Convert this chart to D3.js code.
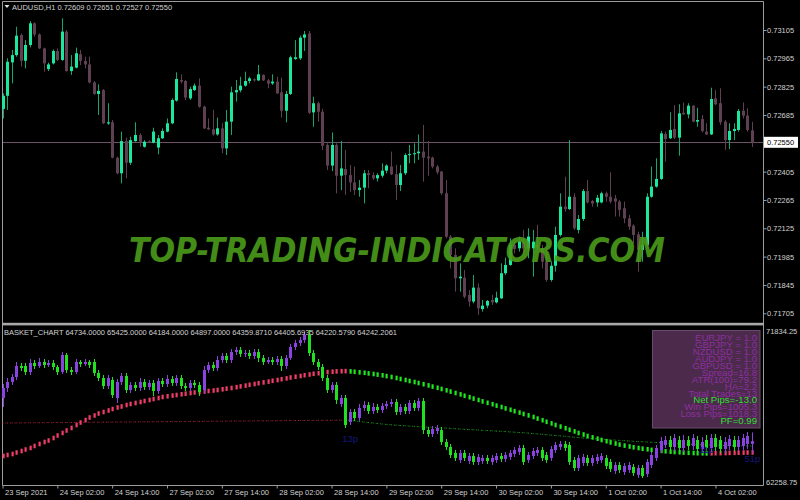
<!DOCTYPE html>
<html><head><meta charset="utf-8">
<script src="https://cdn.jsdelivr.net/npm/d3@7/dist/d3.min.js"></script>
<style>html,body{margin:0;padding:0;background:#000;overflow:hidden}svg{display:block}</style>
</head><body>
<svg id="chart" width="800" height="500"></svg>
<script>
// ---------- AUDUSD H1 candles (price x 1e5) ----------
const pO = [72715,72780,72945,72981,73080,72953,73031,73138,73083,73014,
72912,72940,73001,72957,73097,72902,72919,72985,72952,72935,
72846,72789,72808,72643,72649,72474,72397,72556,72449,72556,
72586,72528,72555,72548,72524,72570,72603,72644,72756,72858,
72853,72767,72808,72830,72726,72622,72614,72589,72619,72520,
72652,72797,72807,72830,72853,72861,72856,72883,72856,72841,
72850,72797,72706,72789,72962,72965,73067,73088,72698,72743,
72701,72537,72435,72537,72385,72418,72388,72352,72314,72326,
72397,72388,72372,72385,72410,72430,72392,72339,72397,72487,
72491,72496,72504,72479,72474,72430,72405,72298,72084,71993,
71878,71881,71796,71763,71832,71726,71743,71771,71759,71779,
71903,71944,72043,72026,72059,72026,72026,72043,72026,71960,
71870,71940,72092,72232,72220,72281,72117,72171,72309,72260,
72253,72253,72298,72281,72273,72257,72224,72174,72138,72095,
72018,72043,72281,72331,72369,72591,72570,72616,72573,72696,
72688,72731,72652,72665,72603,72589,72767,72743,72652,72561,
72606,72611,72706,72682,72609];
const pH = [72792,72965,73006,73121,73088,73055,73149,73143,73088,73018,
72944,73009,73014,73163,73105,72981,73018,73006,72973,72973,
72853,72836,72813,72743,72660,72479,72603,72573,72578,72649,
72594,72561,72560,72622,72586,72619,72668,72767,72896,72886,
72858,72825,72841,72866,72731,72668,72710,72672,72644,72710,
72825,72858,72874,72899,72874,72866,72932,72886,72863,72886,
72874,72869,72804,72978,73055,73077,73100,73100,72775,72751,
72715,72545,72599,72545,72556,72512,72438,72430,72364,72413,
72413,72402,72397,72446,72441,72504,72438,72438,72496,72537,
72545,72589,72636,72556,72479,72438,72408,72364,72092,72026,
71952,71919,71820,71894,71853,71771,71771,71796,71812,71952,
71980,72076,72059,72084,72117,72125,72117,72142,72043,72026,
71960,72133,72298,72380,72561,72298,72191,72319,72364,72265,
72290,72306,72306,72402,72290,72265,72257,72191,72145,72108,
72108,72298,72430,72471,72606,72603,72698,72734,72738,72747,
72743,72734,72721,72685,72644,72820,72808,72817,72660,72644,
72644,72715,72747,72718,72651];
const pL = [72668,72710,72841,72973,72924,72915,73019,73072,73011,72899,
72902,72935,72952,72952,72899,72883,72915,72932,72915,72841,
72784,72685,72640,72636,72471,72392,72347,72372,72438,72553,
72528,72524,72548,72545,72491,72566,72599,72639,72751,72841,
72759,72759,72804,72721,72616,72611,72583,72583,72496,72487,
72586,72751,72797,72825,72841,72850,72853,72853,72817,72833,
72789,72672,72649,72784,72957,72957,73001,72690,72627,72652,
72512,72413,72408,72298,72314,72290,72306,72290,72281,72248,
72323,72364,72356,72375,72397,72388,72265,72309,72388,72446,
72446,72463,72356,72385,72421,72392,72290,72076,71927,71812,
71812,71779,71738,71754,71697,71713,71730,71746,71754,71776,
71894,71940,72001,72010,71993,71977,71886,72018,71927,71861,
71861,71911,72084,72207,72216,72117,72100,72161,72248,72232,
72232,72248,72257,72248,72183,72183,72150,72117,72051,71911,
71960,72034,72276,72326,72364,72454,72566,72566,72484,72685,
72668,72649,72627,72599,72586,72586,72734,72636,72512,72517,
72561,72603,72668,72603,72527];
const pC = [72780,72948,72981,73077,72953,73031,73138,73083,73014,72940,
72935,73001,72957,73097,72902,72924,72990,72952,72935,72846,
72789,72804,72644,72649,72474,72397,72556,72449,72561,72586,
72553,72553,72552,72603,72570,72606,72644,72759,72863,72850,
72771,72813,72830,72726,72619,72614,72589,72619,72520,72652,
72797,72808,72830,72853,72866,72856,72886,72856,72840,72850,
72792,72706,72789,72970,72970,73067,73083,72696,72743,72701,
72533,72435,72537,72385,72421,72388,72352,72314,72326,72397,
72388,72372,72388,72410,72435,72392,72339,72397,72487,72492,
72496,72504,72474,72471,72430,72402,72298,72084,71993,71878,
71886,71787,71763,71832,71730,71743,71766,71759,71782,71903,
71944,72043,72023,72059,72026,72084,72059,72026,71960,71870,
71940,72092,72232,72220,72281,72125,72171,72309,72253,72248,
72276,72298,72281,72257,72257,72216,72174,72133,72092,72018,
72043,72281,72331,72369,72594,72566,72611,72573,72693,72688,
72731,72652,72660,72606,72589,72764,72738,72649,72561,72606,
72616,72705,72682,72611,72550];
const priceTicks = [73105,72965,72825,72685,72405,72265,72125,71985,71845,71705];
const currentPrice = 72550;

// ---------- BASKET_CHART sub-window ----------
const bO = [67499,68101,68462,68763,69425,69425,69064,69606,69425,69666,
69485,69606,69365,69064,70088,69184,69064,69666,69546,69666,
69666,69004,68703,68221,68582,67499,68462,68823,67980,68281,
68101,68462,68161,68402,67920,68522,68342,68643,68402,68703,
68221,68101,68402,68281,67980,69184,69485,69305,69787,70027,
69787,70268,70389,70148,70208,70027,70268,69907,69666,69787,
69666,69847,69425,69907,70570,70810,70991,71292,70208,69666,
69365,68703,67980,68281,67138,67499,66054,66656,66295,66897,
67077,66716,66957,66776,67017,67138,67258,66656,66957,66716,
67198,66897,67318,65572,65331,65512,65572,64849,64548,64187,
63765,64187,63705,64006,63645,63705,63886,63645,63765,64006,
63826,63946,64127,64247,64488,63765,64006,64187,64368,64067,
63886,64368,64548,64729,64669,63765,63284,63585,63886,63585,
63705,63765,63886,63645,63103,63464,63043,63163,63344,62862,
63284,62923,63464,63886,64368,64669,64970,64548,64970,64488,
64970,64609,64970,64428,64970,64488,65090,64970,64428,64609,
64970,64548,64609,64729,64734];
const bH = [68342,68703,68944,69666,69606,69606,69847,69787,69907,69847,
69787,69787,69485,70268,70208,69365,69847,69787,69847,69787,
69847,69184,68883,68883,68763,68643,69004,69004,68462,68462,
68703,68643,68582,68582,68703,68703,68883,68823,68883,68883,
68402,68582,68582,68462,69425,69666,69666,70027,70208,70208,
70449,70570,70570,70389,70389,70449,70449,70088,69967,69967,
70027,70027,70088,70750,70991,71172,71473,71593,70389,69847,
69546,68883,68462,68462,67679,67679,66837,66837,67138,67318,
67258,67198,67138,67198,67318,67439,67439,67138,67138,67378,
67378,67499,67499,65753,65813,65873,65753,65030,64729,64368,
64368,64368,64187,64187,64127,64067,64067,64067,64187,64187,
64247,64368,64548,64669,64669,64247,64488,64548,64548,64247,
64609,64849,64910,64910,64849,63946,64067,64127,64067,64067,
64127,64187,64067,63826,63645,63645,63585,63645,63525,63464,
63464,63826,64247,64669,65150,65211,65211,65331,65211,65271,
65211,65331,65211,65150,65271,65331,65331,65211,65150,65271,
65211,65211,65331,65452,65425];
const bL = [66957,67860,68281,68582,69124,68883,68883,69245,69305,69305,
69365,69184,68883,68944,69004,68883,68944,69365,69425,69305,
68823,68522,68041,68041,67499,67198,68281,67800,67800,67920,
67920,67980,67980,67619,67740,68161,68161,68221,68221,68041,
67920,67920,68101,67619,67800,69004,69124,69124,69606,69606,
69606,70088,69967,69967,69847,69847,69666,69485,69546,69485,
69485,69124,69245,69787,70389,70629,70810,70027,69485,69184,
68522,67800,67800,67138,66957,65693,65873,66114,66114,66716,
66536,66536,66596,66596,66837,66957,66475,66475,66536,66536,
66716,66716,65331,65150,65150,65331,64669,64368,63886,63705,
63585,63705,63525,63464,63464,63525,63525,63464,63585,63645,
63645,63765,63946,64067,63464,63585,63826,64006,63705,63585,
63705,64187,64368,64307,63464,63103,63103,63404,63404,63404,
63525,63585,63224,63043,62923,62983,62862,62983,62802,62682,
62682,62742,63284,63705,64187,64488,64307,64307,64247,64247,
64368,64368,64187,64187,64247,64247,64307,64187,64187,64368,
64307,64307,64368,64428,64184];
const bC = [68101,68462,68763,69425,69305,69064,69606,69425,69666,69485,
69606,69365,69064,70088,69184,69064,69666,69546,69666,69485,
69004,68703,68221,68703,67679,68462,68823,67980,68281,68101,
68462,68161,68402,67920,68522,68342,68643,68402,68703,68221,
68101,68402,68281,67860,69184,69485,69305,69787,70027,69787,
70268,70389,70148,70208,70027,70268,69907,69666,69787,69666,
69847,69425,69907,70570,70810,70991,71292,70208,69666,69365,
68703,67980,68281,67378,67499,65873,66656,66295,66897,67077,
66716,66957,66776,67017,67138,67258,66656,66957,66716,67198,
66897,67318,65572,65331,65633,65693,64849,64548,64067,63886,
64187,63886,64006,63645,63946,63886,63705,63886,64006,63826,
64067,64187,64368,64488,63645,64067,64307,64368,63886,63765,
64428,64669,64729,64488,63645,63284,63886,63946,63585,63886,
63946,64006,63404,63224,63464,63163,63404,63464,62983,63284,
62802,63645,64067,64488,64910,64970,64548,65090,64488,64970,
64609,65090,64428,64849,64488,65090,64548,64428,64849,65030,
64548,64970,65090,65211,64897];
// thick moving average (pink when rising, green when falling)
const maThick = [64006,64066,64126,64216,64307,64397,64487,64608,64728,64849,
64939,65090,65240,65391,65541,65692,65872,66023,66174,66324,
66445,66565,66655,66746,66836,66926,66987,67077,67137,67197,
67258,67318,67378,67438,67498,67559,67601,67643,67679,67721,
67757,67799,67830,67860,67890,67920,67950,67980,68022,68064,
68101,68149,68197,68245,68293,68341,68390,68438,68486,68534,
68582,68631,68679,68733,68781,68823,68871,68914,68956,68992,
69028,69058,69082,69100,69112,69118,
69100,69076,69046,69016,68980,68944,68908,68865,68817,68763,
68703,68643,68582,68522,68462,68402,68329,68257,68185,68113,
68040,67962,67884,67799,67715,67631,67547,67462,67378,67294,
67209,67125,67041,66957,66872,66788,66704,66619,66535,66451,
66354,66258,66162,66065,65969,65872,65776,65680,65583,65487,
65391,65300,65210,65126,65047,64969,64897,64825,64758,64692,
64632,64578,64530,64487,64445,64409,64373,64343,64313,64289,
64265,64247,64229,64210,64198,64186,64174,64168,64162,
64168,64174,64180,64186,64192,64198,64204,64210,64216,64222];
// thin dotted moving average (red when rising, green when falling)
const maThin = [65993,65995,65996,65999,66001,66002,66005,66008,66009,66012,
66014,66016,66019,66020,66023,66026,66027,66030,66032,66035,
66037,66039,66042,66044,66046,66049,66051,66053,66056,66058,
66060,66063,66065,66067,66070,66072,66074,66077,66079,66081,
66084,66086,66088,66091,66093,66095,66098,66100,66102,66105,
66107,66109,66112,66114,66116,66119,66121,66123,66126,66128,
66130,66133,66135,66137,66140,66142,66144,66147,66149,66151,
66152,66154,66155,66157,66158,66160,
66156,66125,66089,66053,66023,65993,65963,65933,65909,65885,
65860,65842,65824,65806,65788,65770,65758,65746,65728,65716,
65698,65686,65668,65650,65632,65614,65602,65583,65571,65553,
65541,65523,65505,65493,65475,65457,65439,65421,65403,65385,
65361,65337,65312,65288,65264,65240,65216,65192,65162,65138,
65114,65090,65072,65054,65035,65017,64999,64981,64963,64945,
64927,64909,64891,64879,64861,64849,64831,64819,64801,64789,
64770,64758,64746,64734,64722,64710,64698,64686,64674,64668,
64656,64650,64638,64632,64626,64620,64614,64608,64602];
const maHeaderValues = ["64359.8710","64405.6935","64220.5790","64242.2061"];
const basketMax = 71834.25, basketMin = 62258.75;

const infoLines = ["EURJPY = 1.0","GBPJPY = 1.0","NZDUSD = 1.0","AUDJPY = 1.0","GBPUSD = 1.0",
  "Spread=16.8","ATR(100)=79.2","HA=2.2","Total Trades=13","Net Pips=-13.0",
  "Win Pips=1005.3","Loss Pips=1018.3","PF=0.99"];
const infoGreen = ["Net Pips=-13.0","PF=0.99"];
const pipLabels = [{bar:75, text:"13p", v:65090},{bar:153, text:"11p", v:64428},{bar:163, text:"51p", v:63886}];

const timeLabels = ["23 Sep 2021","24 Sep 02:00","24 Sep 14:00","27 Sep 02:00","27 Sep 14:00","28 Sep 02:00",
  "28 Sep 14:00","29 Sep 02:00","29 Sep 14:00","30 Sep 02:00","30 Sep 14:00","1 Oct 02:00","1 Oct 14:00","4 Oct 02:00"];
const timeTickBars = [0,12,24,36,48,60,72,84,96,108,120,132,144,156];

// ---------- drawing ----------
const FONT = "'Liberation Sans', Arial, sans-serif";
const TXT = "#d2d2d2";
const FRAME = "#9c9c9c";
const svg = d3.select("#chart");
svg.append("rect").attr("width",800).attr("height",500).attr("fill","#000");

const n = pO.length;
const x = d3.scaleLinear().domain([0, n-1]).range([2.5, 752]);
const yTop = d3.scaleLinear().domain([71705, 73105]).range([313.3, 30]);
const yBot = d3.scaleLinear().domain([basketMin, basketMax]).range([485, 326]);
const idx = d3.range(n);
const px = i => Math.round(x(i));

// frames
const fr = svg.append("g");
fr.append("line").attr("x1",2.5).attr("x2",763.5).attr("y1",1.5).attr("y2",1.5).attr("stroke",FRAME);
fr.append("line").attr("x1",2.5).attr("x2",2.5).attr("y1",1.5).attr("y2",485.5).attr("stroke",FRAME);
fr.append("line").attr("x1",763.5).attr("x2",763.5).attr("y1",1.5).attr("y2",485.5).attr("stroke",FRAME);
fr.append("rect").attr("x",2).attr("y",322.8).attr("width",762).attr("height",2.6).attr("fill","#a8a8a8");
fr.append("line").attr("x1",2.5).attr("x2",763.5).attr("y1",485.5).attr("y2",485.5).attr("stroke",FRAME);

// current price line
svg.append("line").attr("x1",3).attr("x2",763).attr("y1",Math.round(yTop(currentPrice))+0.5)
  .attr("y2",Math.round(yTop(currentPrice))+0.5).attr("stroke","#6c5263");

function candles(g, O, H, L, C, ys, upBody, upWick, dnBody, dnWick) {
  g.selectAll("line.w").data(idx).join("line").attr("class","w")
    .attr("x1", i => px(i)+0.5).attr("x2", i => px(i)+0.5)
    .attr("y1", i => ys(H[i])).attr("y2", i => ys(L[i]))
    .attr("stroke", i => C[i] >= O[i] ? upWick : dnWick).attr("stroke-width", 1);
  g.selectAll("rect.b").data(idx).join("rect").attr("class","b")
    .attr("x", i => px(i)-1).attr("width", 3)
    .attr("y", i => ys(Math.max(O[i], C[i])))
    .attr("height", i => Math.max(1, ys(Math.min(O[i], C[i])) - ys(Math.max(O[i], C[i]))))
    .attr("fill", i => C[i] >= O[i] ? upBody : dnBody);
}
candles(svg.append("g"), pO, pH, pL, pC, yTop, "#1be89e", "#14a575", "#5f4053", "#5f4053");

// watermark
svg.append("text").attr("x",129).attr("y",262)
  .attr("font-family","'DejaVu Sans', Verdana, sans-serif").attr("font-weight","bold")
  .attr("font-style","italic").attr("font-size",34).attr("fill","#4a9c1a").attr("opacity",0.9)
  .attr("textLength",536).attr("lengthAdjust","spacingAndGlyphs")
  .text("TOP-TRADING-INDICATORS.COM");

// header top
svg.append("path").attr("d","M4.5,5 L9.5,5 L7,8 Z").attr("fill","#e0e0e0");
svg.append("text").attr("x",12).attr("y",9.6).attr("fill",TXT).style("font","7.5px "+FONT)
  .text("AUDUSD,H1  " + [pO[n-1], pH[n-1], pL[n-1], pC[n-1]].map(v => (v/1e5).toFixed(5)).join(" "));

// right price axis
const axR = d3.axisRight(yTop).tickValues(priceTicks).tickSize(3).tickFormat(d => (d/1e5).toFixed(5));
const gR = svg.append("g").attr("transform","translate(763.5,0)").call(axR);
gR.select(".domain").remove();
gR.selectAll(".tick line").attr("stroke",FRAME);
gR.selectAll(".tick text").attr("x",3.5).attr("fill",TXT).style("font","7.5px "+FONT);
// current price box
const cpY = yTop(currentPrice);
svg.append("rect").attr("x",764).attr("y",cpY-5.5).attr("width",34).attr("height",11).attr("fill","#ffffff");
svg.append("text").attr("x",767).attr("y",cpY+2.7).attr("fill","#000").style("font","7.5px "+FONT)
  .text((currentPrice/1e5).toFixed(5));

// ---------- bottom sub-window ----------
const gb = svg.append("g");
// thin dotted MA
const segs = d3.range(1, n);
gb.selectAll("line.thin").data(segs).join("line").attr("class","thin")
  .attr("x1", i => x(i-1)).attr("x2", i => x(i))
  .attr("y1", i => yBot(maThin[i-1])).attr("y2", i => yBot(maThin[i]))
  .attr("stroke", i => maThin[i] >= maThin[i-1] ? "#a3223a" : "#1e9e1e")
  .attr("stroke-width", 1).attr("stroke-dasharray","1,2");
// thick MA dashes
gb.selectAll("rect.ma").data(idx).join("rect").attr("class","ma")
  .attr("x", i => px(i)-0.5).attr("width", 2.2)
  .attr("y", i => yBot(maThick[i]) - 2.3).attr("height", 4.6)
  .attr("fill", i => (i === 0 || maThick[i] >= maThick[i-1]) ? "#f23c6a" : "#1fe81f");
// basket candles
candles(gb.append("g"), bO, bH, bL, bC, yBot, "#8a42e0", "#8a42e0", "#20e020", "#20e020");

// pip labels
gb.selectAll("text.pip").data(pipLabels).join("text").attr("class","pip")
  .attr("x", d => x(d.bar) - 3).attr("y", d => yBot(d.v) + 4)
  .attr("fill","#16167a").style("font","9.5px "+FONT).text(d => d.text);

// header
svg.append("text").attr("x",4).attr("y",335).attr("fill",TXT).style("font","7.5px "+FONT)
  .text("BASKET_CHART " + [bO[n-1], bH[n-1], bL[n-1], bC[n-1]].map(v => v.toFixed(4)).join(" ") + " " + maHeaderValues.join(" "));

// info box
svg.append("rect").attr("x",652.5).attr("y",330.5).attr("width",107.5).attr("height",97.5)
  .attr("fill","#4b2a4b").attr("stroke","#6a4a6a");
svg.append("g").selectAll("text").data(infoLines).join("text")
  .attr("x",757).attr("y",(d,i) => 341.3 + i*6.9).attr("text-anchor","end")
  .attr("fill", d => infoGreen.includes(d) ? "#33dd33" : "#8e2fa0")
  .style("font","9.6px "+FONT).text(d => d);

// basket axis labels
svg.append("text").attr("x",766).attr("y",333.5).attr("fill",TXT).style("font","7.5px "+FONT).text(basketMax.toFixed(2));
svg.append("text").attr("x",766).attr("y",484.5).attr("fill",TXT).style("font","7.5px "+FONT).text(basketMin.toFixed(2));

// time axis
const axB = d3.axisBottom(x).tickValues(timeTickBars).tickSize(3).tickFormat((d,i) => timeLabels[i]);
const gB = svg.append("g").attr("transform","translate(0,485.5)").call(axB);
gB.select(".domain").remove();
gB.selectAll(".tick line").attr("stroke",FRAME);
gB.selectAll(".tick text").attr("text-anchor","start").attr("x",2).attr("y",4).attr("dy","0.71em")
  .attr("fill",TXT).style("font","7.5px "+FONT);
</script>
</body></html>
